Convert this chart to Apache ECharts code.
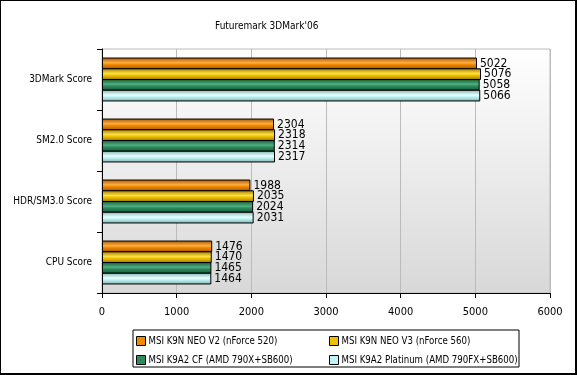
<!DOCTYPE html>
<html>
<head>
<meta charset="utf-8">
<script src="https://cdn.jsdelivr.net/npm/echarts@6/dist/echarts.min.js"></script>
<style>
  html, body { margin: 0; padding: 0; background: #fff; }
  #frame { width: 577px; height: 375px; box-sizing: border-box; border: 1px solid #000; border-right-width: 2px; border-bottom-width: 2px; }
  #container { width: 574px; height: 372px; }
</style>
</head>
<body>
<div id="frame"><div id="container"></div></div>
<script>
var categories = ['3DMark Score', 'SM2.0 Score', 'HDR/SM3.0 Score', 'CPU Score'];
var seriesNames = [
    'MSI K9N NEO V2 (nForce 520)',
    'MSI K9N NEO V3 (nForce 560)',
    'MSI K9A2 CF (AMD 790X+SB600)',
    'MSI K9A2 Platinum (AMD 790FX+SB600)'
];
var k9nNeoV2 = [5022, 2304, 1988, 1476];
var k9nNeoV3 = [5076, 2318, 2035, 1470];
var k9a2Cf = [5058, 2314, 2024, 1465];
var k9a2Platinum = [5066, 2317, 2031, 1464];
var xTicks = [0, 1000, 2000, 3000, 4000, 5000, 6000];

var fontName = '"DejaVu Sans Condensed", "Liberation Sans Narrow", sans-serif';

// base colour, dark edge, light middle
var palette = [
    ['#f08a00', '#a85400', '#ffb040'],
    ['#f0c000', '#a07a00', '#ffe040'],
    ['#2e8a5c', '#155a38', '#50b080'],
    ['#c0f4f4', '#80b0b0', '#e8ffff']
];

function barColor(p) {
    return new echarts.graphic.LinearGradient(0, 0, 0, 1, [
        { offset: 0, color: p[1] },
        { offset: 0.45, color: p[2] },
        { offset: 0.6, color: p[0] },
        { offset: 1, color: p[1] }
    ]);
}

var dataSets = [k9nNeoV2, k9nNeoV3, k9a2Cf, k9a2Platinum];

// one legend per entry so the 2x2 layout lines up
var legendSpots = [[135, 335], [328, 335], [135, 354], [328, 354]];
var legends = seriesNames.map(function (n, i) {
    return {
        data: [{ name: n, itemStyle: { color: palette[i][0], borderColor: '#000', borderWidth: 1 } }],
        left: legendSpots[i][0],
        top: legendSpots[i][1],
        padding: 0,
        itemWidth: 9,
        itemHeight: 9,
        icon: 'rect',
        textStyle: { fontFamily: fontName, fontSize: 9.6, color: '#000', padding: [0, 0, 0, -2] }
    };
});

var dom = document.getElementById('container');
var myChart = echarts.init(dom, null, { renderer: 'canvas' });

var option = {
    animation: false,
    title: {
        text: 'Futuremark 3DMark\'06',
        left: 209,
        top: 15,
        textStyle: { fontFamily: fontName, fontSize: 10, fontWeight: 'normal', color: '#000' }
    },
    graphic: [{
        type: 'rect',
        shape: { x: 132, y: 329, width: 386, height: 37 },
        style: { fill: '#fff', stroke: '#000', lineWidth: 1 },
        z: -1
    }],
    legend: legends,
    grid: {
        left: 101,
        right: 25,
        top: 48,
        bottom: 80,
        show: true,
        borderColor: '#bbb',
        borderWidth: 1,
        backgroundColor: new echarts.graphic.LinearGradient(0, 0, 0, 1, [
            { offset: 0, color: '#ffffff' },
            { offset: 1, color: '#d8d8d8' }
        ])
    },
    xAxis: {
        type: 'value',
        min: xTicks[0],
        max: xTicks[xTicks.length - 1],
        interval: 1000,
        axisLine: { show: true, lineStyle: { color: '#000' } },
        axisTick: { show: true, length: 5, lineStyle: { color: '#000' } },
        axisLabel: {
            fontFamily: fontName, fontSize: 11, color: '#000', margin: 14,
            formatter: function (v) { return String(v); }
        },
        splitLine: { show: true, lineStyle: { color: '#bbb' } }
    },
    yAxis: {
        type: 'category',
        data: categories,
        inverse: true,
        axisLine: { show: true, lineStyle: { color: '#000', width: 1 } },
        axisTick: { show: true, length: 5, lineStyle: { color: '#000' } },
        axisLabel: { fontFamily: fontName, fontSize: 10, color: '#000', margin: 10 }
    },
    series: dataSets.map(function (d, i) {
        return {
            name: seriesNames[i],
            type: 'bar',
            data: d,
            barGap: '-8%',
            barCategoryGap: '28%',
            itemStyle: { color: barColor(palette[i]), borderColor: '#000', borderWidth: 1 },
            label: {
                show: true,
                position: 'right',
                distance: 3,
                fontFamily: fontName,
                fontSize: 12,
                color: '#000',
                formatter: function (p) { return String(p.value); }
            }
        };
    })
};

myChart.setOption(option);

window.addEventListener('resize', myChart.resize);
</script>
</body>
</html>
